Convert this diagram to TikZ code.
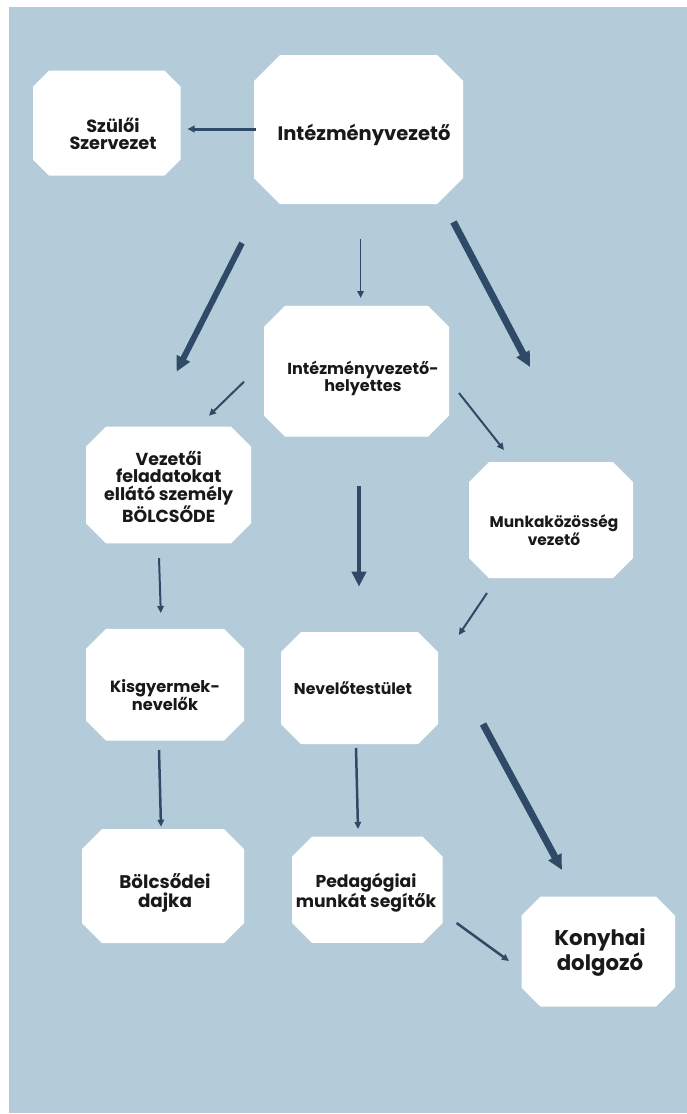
\documentclass[tikz,border=0pt]{standalone}
\usepackage{fontspec}
\setmainfont{Poppins}
\usetikzlibrary{arrows.meta,backgrounds}
\definecolor{bgblue}{RGB}{180,204,217}
\definecolor{arr}{RGB}{46,74,103}
\definecolor{ink}{RGB}{25,25,25}
\newcommand\chamf[2]{\fill[white] ([xshift=#2]#1.north west) -- ([xshift=-#2]#1.north east) -- ([yshift=-#2]#1.north east) -- ([yshift=#2]#1.south east) -- ([xshift=-#2]#1.south east) -- ([xshift=#2]#1.south west) -- ([yshift=#2]#1.south west) -- ([yshift=-#2]#1.north west) -- cycle;}
\begin{document}
\begin{tikzpicture}[x=1pt,y=-1pt,
  box/.style={rectangle, inner sep=0pt, outer sep=0pt, draw=none},
  lbl/.style={align=center, inner sep=0pt, text=ink, font=\bfseries\fontsize{#1}{#1}\selectfont},
  thinarr/.style={draw=arr, line width=#1, -{Triangle[length=7pt,width=6.5pt]}},
  thickarr/.style={draw=arr, line width=#1, -{Triangle[length=15pt,width=14pt]}}]
\useasboundingbox (0,0) rectangle (687,1114);
% boxes
\node[box, minimum width=147.5, minimum height=105] (szul) at (106.75,123.2) {};
\node[box, minimum width=209, minimum height=149] (int) at (358.5,129.5) {};
\node[box, minimum width=185, minimum height=130.7] (hely) at (356.5,371.3) {};
\node[box, minimum width=165, minimum height=116.6] (vez) at (168.5,485) {};
\node[box, minimum width=164, minimum height=116] (munk) at (551,520) {};
\node[box, minimum width=158, minimum height=111.7] (kisgy) at (165,684.8) {};
\node[box, minimum width=157, minimum height=112] (nev) at (359.5,688) {};
\node[box, minimum width=162, minimum height=114] (bolcs) at (163,886) {};
\node[box, minimum width=150.6, minimum height=106.3] (ped) at (367.3,889.8) {};
\node[box, minimum width=153.5, minimum height=110] (kony) at (598.25,951.7) {};
% labels
\node[lbl=17.7] (szul-t) at (113,134) {Szülői\\Szervezet};
\node[lbl=19.5] (int-t) at (364,135) {Intézményvezető};
\node[lbl=16] (hely-t) at (363,378) {Intézményvezető-\\helyettes};
\node[lbl=17.4] (vez-t) at (168.7,486.7) {Vezetői\\feladatokat\\ellátó személy\\BÖLCSŐDE};
\node[lbl=15.4] (munk-t) at (554,530.5) {Munkaközösség\\vezető};
\node[lbl=16.2] (kisgy-t) at (165,695) {Kisgyermek-\\nevelők};
\node[lbl=15.7] (nev-t) at (353,688) {Nevelőtestület};
\node[lbl=18.3] (bolcs-t) at (165,893) {Bölcsődei\\dajka};
\node[lbl=17.2] (ped-t) at (366,892.5) {Pedagógiai\\munkát segítők};
\node[lbl=21.3] (kony-t) at (600,952.3) {Konyhai\\dolgozó};
% arrow end points
\coordinate (a1s) at (256,129);   \coordinate (a1e) at (187.5,129);
\coordinate (a2s) at (242,243);   \coordinate (a2e) at (176.6,371.7);
\coordinate (a3s) at (360.6,239); \coordinate (a3e) at (360.6,298);
\coordinate (a4s) at (453.5,222); \coordinate (a4e) at (530,367);
\coordinate (a5s) at (244,381.7); \coordinate (a5e) at (209,415.7);
\coordinate (a6s) at (459,393);   \coordinate (a6e) at (504,450);
\coordinate (a7s) at (359,486);   \coordinate (a7e) at (359,586.7);
\coordinate (a8s) at (159,558);   \coordinate (a8e) at (160.8,613);
\coordinate (a9s) at (487,593);   \coordinate (a9e) at (458.8,635);
\coordinate (a10s) at (159,750);  \coordinate (a10e) at (161,826.7);
\coordinate (a11s) at (356,748);  \coordinate (a11e) at (358,829);
\coordinate (a12s) at (483,724);  \coordinate (a12e) at (562,870);
\coordinate (a13s) at (456.6,923);\coordinate (a13e) at (509,961);
% arrows
\draw[thinarr=3pt] (a1s) -- (a1e);
\draw[thickarr=6pt] (a2s) -- (a2e);
\draw[thinarr=1.6pt] (a3s) -- (a3e);
\draw[thickarr=7pt] (a4s) -- (a4e);
\draw[thinarr=2pt] (a5s) -- (a5e);
\draw[thinarr=2pt] (a6s) -- (a6e);
\draw[thickarr=4.5pt] (a7s) -- (a7e);
\draw[thinarr=2pt] (a8s) -- (a8e);
\draw[thinarr=2pt] (a9s) -- (a9e);
\draw[thinarr=2.5pt] (a10s) -- (a10e);
\draw[thinarr=2.5pt] (a11s) -- (a11e);
\draw[thickarr=7pt] (a12s) -- (a12e);
\draw[thinarr=2.5pt] (a13s) -- (a13e);
\begin{pgfonlayer}{background}
\fill[white] (0,0) rectangle (687,1114);
\fill[bgblue] (9,7) rectangle (687,1113);
\chamf{szul}{16}
\chamf{int}{26}
\chamf{hely}{21}
\chamf{vez}{20}
\chamf{munk}{20}
\chamf{kisgy}{20}
\chamf{nev}{20}
\chamf{bolcs}{20}
\chamf{ped}{20}
\chamf{kony}{19}
\end{pgfonlayer}
\end{tikzpicture}
\end{document}
